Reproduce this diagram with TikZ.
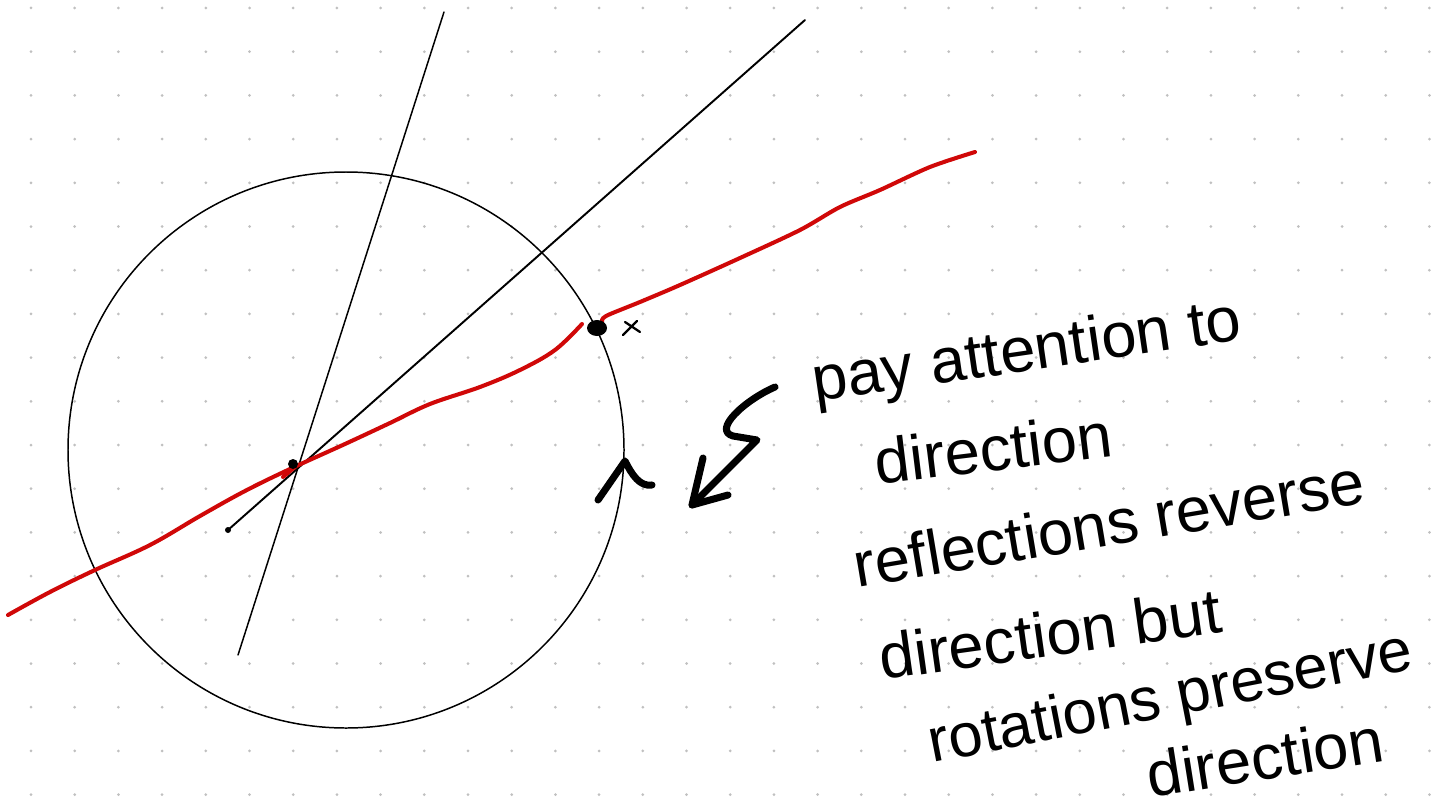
\documentclass[tikz,border=0pt]{standalone}
\usepackage{fontspec}
\newfontfamily\handfont{Liberation Sans}
\definecolor{penred}{RGB}{208,8,8}
\definecolor{griddot}{RGB}{192,192,192}
\begin{document}
\begin{tikzpicture}[
  x=0.02cm, y=-0.02cm,
  pen/.style={line width=0.85pt, line cap=round},
  redpen/.style={penred, line width=2.3pt, line cap=round, line join=round},
  marker/.style={line width=4pt, line cap=round, line join=round},
  note/.style={font=\handfont\fontsize{36}{40}\selectfont, inner sep=0pt, anchor=base west}
]
\useasboundingbox[fill=white] (0,0) rectangle (1446,811);

% dotted paper
\foreach \i in {0,...,32}
  \foreach \j in {0,...,18}
    \fill[griddot] (31+43.7*\i, 8+43.7*\j) circle (1.5);

\draw[pen] (346,450) circle (278);
\draw[pen] (238,655) -- (444,12);
\draw[pen, line width=1.1pt] (228,530) -- (805,20);
\fill (228,530) circle (3);

\draw[redpen] plot[smooth, tension=0.6] coordinates {(8,615) (50,592) (95,570) (150,545) (200,516) (245,491) (290,469) (345,444) (390,423) (430,404) (480,387) (520,370) (555,350) (582,324)};
\draw[redpen] plot[smooth, tension=0.5] coordinates {(602,322) (606,316) (640,302) (680,285) (740,258) (800,230) (840,207) (880,190) (930,167) (975,152)};
\draw[redpen] (283,477) -- (296,466);

\fill (293,464) circle (5);
\fill (597,328) ellipse (10 and 8);
\draw[pen, line width=1.3pt] (625,322) -- (640,332) (623,335) -- (637,321);

% caret on the circle
\draw[marker] (598,500) -- (625,461) .. controls (632,475) and (640,487) .. (652,485);

% squiggle arrow
\draw[marker] (775,387) .. controls (745,400) and (712,430) .. (733,436) -- (757,440) -- (692,505);
\draw[marker] (703,458) -- (692,505) -- (728,495);

\node[note, rotate=8.3] (pay) at (815,402) {pay attention to};
\node[note, rotate=7] (dir1) at (877,485) {direction};
\node[note, rotate=9.5] (refl) at (857,588) {reflections reverse};
\node[note, rotate=8] (dir2) at (882,680) {direction but};
\node[note, rotate=11, font=\handfont\fontsize{35}{40}\selectfont] (rot) at (932,763) {rotations preserve};
\node[note, rotate=9] (dir3) at (1150,798) {direction};
\end{tikzpicture}
\end{document}
